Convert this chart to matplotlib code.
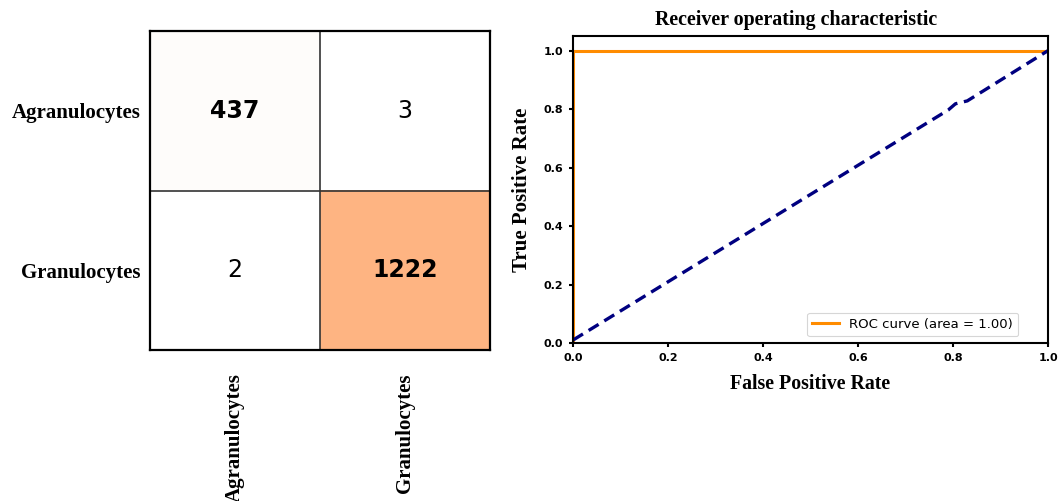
#!/usr/bin/env python3
"""Confusion matrix and ROC curve for the granulocyte / agranulocyte classifier."""

import matplotlib.pyplot as plt
import numpy as np
from matplotlib.colors import LinearSegmentedColormap, PowerNorm

plt.rcParams["font.family"] = "serif"
plt.rcParams["font.serif"] = ["Liberation Serif", "DejaVu Serif"]

# confusion matrix (rows = true, cols = predicted)
class_names = ["Agranulocytes", "Granulocytes"]
counts = np.array([[437, 3],
                   [2, 1222]])

# ROC points
fpr = [0.0, 0.0, 1.0]
tpr = [0.0, 1.0, 1.0]
roc_auc = 1.00

# reference (chance) curve
ref_fpr = [0.0, 0.79, 0.805, 0.83, 1.0]
ref_tpr = [0.01, 0.797, 0.818, 0.828, 1.0]

fig = plt.figure(figsize=(10.58, 5.01), dpi=100)

# --- confusion matrix ---
ax_cm = fig.add_axes([0.1418, 0.3014, 0.3214, 0.6367])
cmap = LinearSegmentedColormap.from_list("peach", ["#ffffff", "#feb482"])
ax_cm.imshow(counts, cmap=cmap, norm=PowerNorm(gamma=3.2, vmin=0, vmax=counts.max()),
             aspect="auto", interpolation="nearest")
for i in range(2):
    for j in range(2):
        ax_cm.text(j, i, str(counts[i, j]), ha="center", va="center",
                   fontsize=17, family="DejaVu Sans",
                   fontweight="bold" if i == j else "normal", color="black")
ax_cm.axhline(0.5, color="#333333", lw=1.2)
ax_cm.axvline(0.5, color="#333333", lw=1.2)
ax_cm.set_xticks(range(2))
ax_cm.set_yticks(range(2))
ax_cm.set_xticklabels(class_names, rotation=90, fontsize=15, fontweight="bold")
ax_cm.set_yticklabels(class_names, fontsize=15, fontweight="bold")
ax_cm.tick_params(axis="x", length=0, pad=17)
ax_cm.tick_params(axis="y", length=0, pad=7)
for sp in ax_cm.spines.values():
    sp.set_linewidth(1.6)
    sp.set_color("black")

# --- ROC curve ---
ax_roc = fig.add_axes([0.5416, 0.3154, 0.449, 0.6128])
ax_roc.plot(fpr, tpr, color="darkorange", lw=2.2,
            label=f"ROC curve (area = {roc_auc:.2f})")
ax_roc.plot(ref_fpr, ref_tpr, color="navy", lw=2.4, linestyle="--", dashes=(3.5, 2))
ax_roc.set_xlim(0.0, 1.0)
ax_roc.set_ylim(0.0, 1.05)
ax_roc.set_xticks(np.arange(0, 1.01, 0.2))
ax_roc.set_yticks(np.arange(0, 1.01, 0.2))
ax_roc.tick_params(labelsize=8, width=1.5, length=3, pad=4)
for lab in ax_roc.get_xticklabels() + ax_roc.get_yticklabels():
    lab.set_family("DejaVu Sans")
    lab.set_fontweight("bold")
ax_roc.set_xlabel("False Positive Rate", fontsize=14.3, fontweight="bold", labelpad=8)
ax_roc.set_ylabel("True Positive Rate", fontsize=15, fontweight="bold", labelpad=8)
ax_roc.set_title("Receiver operating characteristic", fontsize=14.4, fontweight="bold",
                 pad=8, x=0.47)
for sp in ax_roc.spines.values():
    sp.set_linewidth(1.5)
    sp.set_color("black")
leg = ax_roc.legend(loc="lower right", bbox_to_anchor=(0.951, 0.0),
                    prop={"family": "DejaVu Sans", "size": 9.5})
leg.get_frame().set_linewidth(0.8)

fig.savefig("out.png", dpi=100)
